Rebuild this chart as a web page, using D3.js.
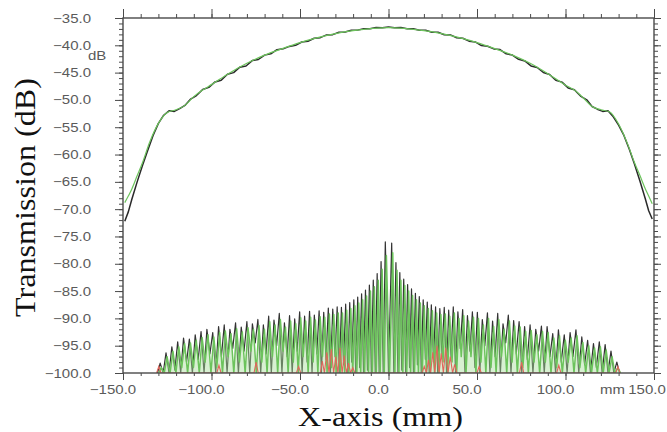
<!DOCTYPE html>
<html><head><meta charset="utf-8">
<script src="https://cdn.jsdelivr.net/npm/d3@7"></script>
<style>body{margin:0;background:#fff}svg{display:block}</style>
</head><body>
<svg id="c" width="667" height="432"></svg>
<script>
const xTicks=[-150,-100,-50,0,50,100,150];
const yTicks=[-35,-40,-45,-50,-55,-60,-65,-70,-75,-80,-85,-90,-95,-100];

const topBlack=[[-149,-72.2],[-147,-70.5],[-145,-68.2],[-142,-65.0],[-139,-62.0],[-136,-59.2],[-133,-56.5],[-130,-54.3],[-127,-52.8],[-124,-52.0],[-121,-52.1],[-118,-51.6],[-115,-51.0],[-112,-49.9],[-108.5,-49.2],[-105,-48.1],[-101.5,-47.7],[-98,-46.7],[-94.5,-46.4],[-91,-45.3],[-87.5,-45.0],[-84,-44.0],[-80.5,-43.8],[-77,-42.8],[-73.5,-42.6],[-70,-41.8],[-66.5,-41.55],[-63,-40.8],[-59.5,-40.65],[-56,-40.2],[-52.5,-40.0],[-49,-39.4],[-45.5,-39.25],[-42,-38.7],[-38.5,-38.6],[-35,-38.1],[-31.5,-38.05],[-28,-37.62],[-24.5,-37.58],[-21,-37.24],[-17.5,-37.22],[-14,-36.96],[-10.5,-36.95],[-7,-36.76],[-3.5,-36.8],[0,-36.65],
[3.5,-36.8],[7,-36.76],[10.5,-36.96],[14,-36.96],[17.5,-37.23],[21,-37.24],[24.5,-37.6],[28,-37.62],[31.5,-38.07],[35,-38.1],[38.5,-38.62],[42,-38.7],[45.5,-39.24],[49,-39.38],[52.5,-40.04],[56,-40.18],[59.5,-40.66],[63,-40.78],[66.5,-41.56],[70,-41.78],[73.5,-42.56],[77,-42.86],[80.5,-43.78],[84,-44.06],[87.5,-44.98],[91,-45.34],[94.5,-46.4],[98,-46.74],[101.5,-47.8],[105,-48.12],[108.5,-49.3],[112,-49.98],[115,-51.2],[118,-51.7],[121,-52.1],[124,-52.0],[127,-53.1],[130,-54.6],[133,-56.5],[136,-59.0],[139,-61.8],[142,-64.8],[145,-68.0],[147,-70.3],[149,-71.8]];

const topGreen=[[-149,-68.8],[-147,-67.6],[-145,-66.3],[-142,-63.9],[-139,-61.5],[-135,-57.8],[-130,-54.3],[-125,-52.3],[-120,-51.8],[-115,-51.0],[-110,-49.4],[-105,-48.2],[-100,-47.2],[-90,-45.1],[-80,-43.3],[-70,-41.8],[-60,-40.6],[-50,-39.5],[-40,-38.6],[-30,-37.85],[-20,-37.3],[-10,-36.95],[0,-36.75],[10,-36.95],[20,-37.3],[30,-37.85],[40,-38.6],[50,-39.5],[60,-40.6],[70,-41.8],[80,-43.3],[90,-45.2],[100,-47.3],[105,-48.2],[110,-49.6],[115,-51.2],[120,-51.8],[125,-52.2],[130,-54.4],[135,-58.0],[139,-61.5],[142,-63.8],[145,-66.2],[147,-67.6],[149,-69.0]];

const lowBlack=[[-130.5,-100],[-129,-98.2],[-127.3,-100],[-125.7,-96.3],[-124,-100],[-122.4,-95.2],[-120.7,-99.5],[-119.1,-94.3],[-117.4,-100],[-115.8,-93.6],[-114.1,-98],[-112.5,-93.8],[-110.8,-100],[-109.2,-93.0],[-107.5,-97.5],[-105.9,-92.4],[-104.2,-100],[-102.6,-92.0],[-100.9,-96.5],[-99.3,-92.6],[-97.6,-100],[-96,-91.5],[-94.4,-97],[-92.8,-91.2],[-91.2,-100],[-89.6,-92.0],[-88,-95.5],[-86.4,-90.8],[-84.8,-100],[-83.2,-91.6],[-81.6,-96],[-80,-90.6],[-78.4,-100],[-76.9,-91.0],[-75.3,-94.5],[-73.8,-90.2],[-72.2,-100],[-70.7,-91.2],[-69.2,-96.5],[-67.7,-89.6],[-66.2,-100],[-64.7,-90.3],[-63.2,-95],[-61.7,-89.1],[-60.2,-100],[-58.8,-90.8],[-57.3,-97],[-55.9,-89.5],[-54.4,-100],[-53,-90.1],[-51.6,-96],[-50.2,-88.8],[-48.8,-100],[-47.4,-89.6],[-46,-98],[-44.6,-88.7],[-43.2,-100],[-41.9,-89.4],[-40.5,-96.5],[-39.2,-88.6],[-37.9,-100],[-36.6,-88.9],[-35.3,-97.5],[-34,-88.1],[-32.8,-100],[-31.5,-88.3],[-30.2,-97],[-29,-87.9],[-27.8,-100],[-26.6,-88.0],[-25.4,-98.5],[-24.2,-87.4],[-23,-100],[-21.9,-87.1],[-20.8,-98],[-19.6,-86.6],[-18.5,-100],[-17.4,-86.1],[-16.3,-99],[-15.2,-85.5],[-14.1,-100],[-13,-84.8],[-11.9,-99.5],[-10.8,-83.9],[-9.7,-100],[-8.6,-83.0],[-7.5,-100],[-6.4,-81.8],[-5.3,-100],[-4.2,-79.6],[-3,-100],[-1.8,-76.0],[0,-100],
[1.8,-76.2],[3,-100],[4.2,-79.8],[5.3,-100],[6.4,-81.6],[7.5,-99.5],[8.6,-82.8],[9.7,-100],[10.8,-83.8],[11.9,-99],[13,-84.6],[14.1,-100],[15.2,-85.4],[16.3,-98.5],[17.4,-86.0],[18.5,-100],[19.6,-86.6],[20.8,-97.5],[21.9,-87.0],[23,-100],[24.2,-87.5],[25.4,-98],[26.6,-87.9],[27.8,-100],[29,-88.2],[30.2,-96.5],[31.5,-88.0],[32.8,-100],[34,-88.5],[35.3,-97],[36.6,-87.9],[37.9,-100],[39.2,-88.8],[40.5,-95.5],[41.9,-88.4],[43.2,-100],[44.6,-89.5],[46,-96],[47.4,-88.8],[48.8,-99],[50.2,-88.9],[51.6,-100],[53,-90.2],[54.4,-95],[55.9,-89.0],[57.3,-100],[58.8,-90.5],[60.2,-97],[61.7,-89.1],[63.2,-100],[64.7,-91.0],[66.2,-94.5],[67.7,-89.4],[69.2,-100],[70.7,-90.4],[72.2,-96.5],[73.8,-90.6],[75.3,-100],[76.9,-91.5],[78.4,-97.5],[80,-91.2],[81.6,-100],[83.2,-92.0],[84.8,-96],[86.4,-91.4],[88,-100],[89.6,-91.5],[91.2,-97],[92.8,-92.8],[94.4,-100],[96,-92.1],[97.6,-98],[99.3,-93.0],[100.9,-100],[102.6,-92.6],[104.2,-97],[105.9,-92.1],[107.5,-100],[109.2,-93.4],[110.8,-98.5],[112.5,-94.0],[114.1,-100],[115.8,-94.6],[117.4,-99],[119.1,-94.3],[120.7,-100],[122.4,-94.8],[124,-100],[125.7,-96.0],[127.3,-100],[129,-98.0],[130.5,-100]];

const lowGreen=[[-129.9,-100],[-128.4,-99.0],[-126.7,-100],[-125.1,-97.0],[-123.4,-100],[-121.8,-96.0],[-120.1,-100],[-118.5,-95.2],[-116.8,-99],[-115.2,-94.6],[-113.5,-100],[-111.9,-94.5],[-110.2,-99],[-108.6,-94.0],[-106.9,-100],[-105.3,-93.5],[-103.6,-98],[-102,-93.0],[-100.3,-100],[-98.7,-93.4],[-97,-99],[-95.4,-92.6],[-93.8,-100],[-92.2,-92.3],[-90.6,-97],[-89,-92.8],[-87.4,-100],[-85.8,-91.9],[-84.2,-98],[-82.6,-92.5],[-81,-100],[-79.4,-91.7],[-77.8,-96],[-76.3,-92.0],[-74.7,-100],[-73.2,-91.3],[-71.6,-98],[-70.1,-92.0],[-68.6,-100],[-67.1,-90.6],[-65.6,-97],[-64.1,-91.2],[-62.6,-100],[-61.1,-90.2],[-59.6,-96],[-58.2,-91.6],[-56.7,-100],[-55.3,-90.5],[-53.8,-98],[-52.4,-91.0],[-51,-100],[-49.6,-89.9],[-48.2,-97],[-46.8,-90.5],[-45.4,-100],[-44,-89.8],[-42.6,-98],[-41.3,-90.3],[-39.9,-100],[-38.6,-89.7],[-37.3,-97],[-36,-89.8],[-34.7,-100],[-33.4,-89.2],[-32.2,-99],[-30.9,-89.3],[-29.6,-100],[-28.4,-89.0],[-27.2,-100],[-26,-89.0],[-24.8,-100],[-23.6,-88.5],[-22.4,-100],[-21.3,-88.2],[-20.2,-100],[-19,-87.7],[-17.9,-100],[-16.8,-87.2],[-15.7,-100],[-14.6,-86.6],[-13.5,-100],[-12.4,-85.9],[-11.3,-100],[-10.2,-85.0],[-9.1,-100],[-8,-84.2],[-6.9,-100],[-5.8,-83.0],[-4.7,-100],[-3.6,-81.0],[-2.4,-100],[-1.2,-78.5],[0.6,-100],
[2.4,-78.0],[3.6,-100],[4.8,-81.2],[5.9,-100],[7,-83.0],[8.1,-100],[9.2,-84.0],[10.3,-100],[11.4,-85.0],[12.5,-100],[13.6,-85.8],[14.7,-100],[15.8,-86.6],[16.9,-100],[18,-87.2],[19.1,-100],[20.2,-87.7],[21.4,-100],[22.5,-88.2],[23.6,-100],[24.8,-88.6],[26,-100],[27.2,-89.0],[28.4,-100],[29.6,-89.3],[30.8,-98],[32.1,-89.2],[33.4,-100],[34.6,-89.6],[35.9,-98],[37.2,-89.0],[38.5,-100],[39.8,-90.0],[41.1,-97],[42.5,-89.5],[43.8,-100],[45.2,-90.5],[46.6,-97],[48,-89.8],[49.4,-100],[50.8,-90.0],[52.2,-98],[53.6,-91.2],[55,-100],[56.5,-90.0],[57.9,-99],[59.4,-91.5],[60.8,-100],[62.3,-90.2],[63.8,-97],[65.3,-92.0],[66.8,-100],[68.3,-90.5],[69.8,-98],[71.3,-91.4],[72.8,-100],[74.4,-91.6],[75.9,-99],[77.5,-92.4],[79,-100],[80.6,-92.2],[82.2,-98],[83.8,-93.0],[85.4,-100],[87,-92.4],[88.6,-98],[90.2,-92.6],[91.8,-100],[93.4,-93.6],[95,-99],[96.6,-93.2],[98.2,-100],[99.9,-94.0],[101.5,-98],[103.2,-93.6],[104.8,-100],[106.5,-93.2],[108.1,-99],[109.8,-94.4],[111.4,-100],[113.1,-95.0],[114.7,-100],[116.4,-95.4],[118,-100],[119.7,-95.2],[121.3,-100],[123,-95.8],[124.6,-100],[126.3,-97.0],[127.9,-100],[129.6,-99.0],[131.1,-100]];

const lowRed=[[-131,-100],[-129.8,-98.8],[-128.6,-100],[-97,-100],[-95.8,-98.6],[-94.6,-100],[-76,-100],[-74.8,-98.0],[-73.6,-100],[-52,-100],[-50.8,-98.8],[-49.6,-100],[-38.5,-100],[-37.4,-97.8],[-36.2,-100],[-34.9,-96.2],[-33.6,-100],[-32.3,-95.6],[-31,-100],[-29.8,-97.0],[-28.6,-100],[-27.4,-95.4],[-26.2,-100],[-25,-96.8],[-23.8,-100],[-22.6,-98.2],[-21.4,-100],[-20.2,-99.0],[-19,-100],
[19,-100],[20.2,-98.8],[21.4,-100],[22.6,-97.6],[23.8,-100],[25,-96.2],[26.2,-100],[27.4,-95.0],[28.6,-100],[29.8,-96.4],[31,-100],[32.3,-95.4],[33.6,-100],[34.9,-97.0],[36.2,-100],[37.4,-98.4],[38.6,-100],[50,-100],[51.2,-98.8],[52.4,-100],[74,-100],[75.2,-98.0],[76.4,-100],[95,-100],[96.2,-98.6],[97.4,-100],[128.4,-100],[129.6,-98.8],[130.8,-100]];

const svg=d3.select("#c");
const L=123,R=654,T=18,B=373;
const x=d3.scaleLinear().domain([-150,150]).range([L,R]);
const y=d3.scaleLinear().domain([-100,-35]).range([B,T]);
const fmt=d3.format(".1f");

svg.append("defs").append("clipPath").attr("id","clip")
  .append("rect").attr("x",L).attr("y",T).attr("width",R-L).attr("height",B-T);
const g=svg.append("g").attr("clip-path","url(#clip)");
const line=d3.line().x(d=>x(d[0])).y(d=>y(d[1]));
const smooth=d3.line().x(d=>x(d[0])).y(d=>y(d[1])).curve(d3.curveMonotoneX);
const area=d3.area().x(d=>x(d[0])).y0(y(-100)).y1(d=>y(d[1]));

g.append("path").datum(lowBlack).attr("d",line).attr("fill","none").attr("stroke","#333").attr("stroke-width",1.2).attr("stroke-linejoin","round");
g.append("path").datum(lowGreen).attr("d",area).attr("fill","#a9dd9c").attr("opacity",0.45);
g.append("path").datum(lowGreen).attr("d",line).attr("fill","none").attr("stroke","#6cc35c").attr("stroke-width",1.5).attr("stroke-linejoin","round");
g.append("path").datum(lowRed).attr("d",line).attr("fill","none").attr("stroke","#e0665c").attr("stroke-width",1.1);
g.append("path").datum(topBlack).attr("d",line).attr("fill","none").attr("stroke","#2a2a2a").attr("stroke-width",1.5).attr("stroke-linejoin","round");
g.append("path").datum(topGreen).attr("d",smooth).attr("fill","none").attr("stroke","#6cc35c").attr("stroke-width",1.2);

// frame
svg.append("rect").attr("x",L).attr("y",T).attr("width",R-L).attr("height",B-T)
  .attr("fill","none").attr("stroke","#4a4a4a").attr("stroke-width",1.4);

function styleAxis(sel){sel.select(".domain").remove();sel.selectAll("text").remove();sel.selectAll("line").attr("stroke","#4a4a4a");}
const yMinor=y.ticks(65), xMinor=x.ticks(30);
svg.append("g").attr("transform",`translate(${L},0)`).call(d3.axisLeft(y).tickValues(yMinor).tickSize(4)).call(styleAxis);
svg.append("g").attr("transform",`translate(${L},0)`).call(d3.axisLeft(y).tickValues(yTicks).tickSize(8)).call(styleAxis);
svg.append("g").attr("transform",`translate(${R},0)`).call(d3.axisRight(y).tickValues(yMinor).tickSize(4)).call(styleAxis);
svg.append("g").attr("transform",`translate(${R},0)`).call(d3.axisRight(y).tickValues(yTicks).tickSize(7)).call(styleAxis);
svg.append("g").attr("transform",`translate(0,${T})`).call(d3.axisTop(x).tickValues(xMinor).tickSize(4)).call(styleAxis);
svg.append("g").attr("transform",`translate(0,${T})`).call(d3.axisTop(x).tickValues(xTicks).tickSize(9)).call(styleAxis);
svg.append("g").attr("transform",`translate(0,${B})`).call(d3.axisBottom(x).tickValues(xMinor).tickSize(3)).call(styleAxis);
svg.append("g").attr("transform",`translate(0,${B})`).call(d3.axisBottom(x).tickValues(xTicks).tickSize(7)).call(styleAxis);

const lab={"font-family":"'Liberation Sans',Arial,sans-serif","font-size":"12.5px","fill":"#5a5a5a"};
function applyStyle(s,o){for(const k in o) s.style(k,o[k]);return s;}
applyStyle(svg.append("g").selectAll("text").data(yTicks).join("text")
  .attr("transform",d=>`translate(${L-32},${y(d)}) scale(1.2,1)`)
  .attr("dy","0.36em").attr("text-anchor","end").text(d=>fmt(d)),lab);
applyStyle(svg.append("g").selectAll("text").data(xTicks).join("text")
  .attr("transform",d=>`translate(${x(d)-(d===150?7:10)},${B+21}) scale(1.2,1)`)
  .attr("text-anchor","middle").text(d=>fmt(d)),lab);
applyStyle(svg.append("text").attr("transform",`translate(${L-35},${y(-40)+15}) scale(1.2,1)`).text("dB"),lab);
applyStyle(svg.append("text").attr("transform",`translate(${x(150)-54},${B+21}) scale(1.2,1)`).text("mm"),lab);

const serif={"font-family":"'Liberation Serif','Times New Roman',serif","fill":"#111"};
applyStyle(svg.append("text").attr("transform",`translate(35,197.5) rotate(-90)`)
  .attr("text-anchor","middle").attr("font-size","30px")
  .attr("textLength",239).attr("lengthAdjust","spacingAndGlyphs").text("Transmission (dB)"),serif);
applyStyle(svg.append("text").attr("x",380.5).attr("y",426)
  .attr("text-anchor","middle").attr("font-size","28px")
  .attr("textLength",165).attr("lengthAdjust","spacingAndGlyphs").text("X-axis (mm)"),serif);
</script>
</body></html>
